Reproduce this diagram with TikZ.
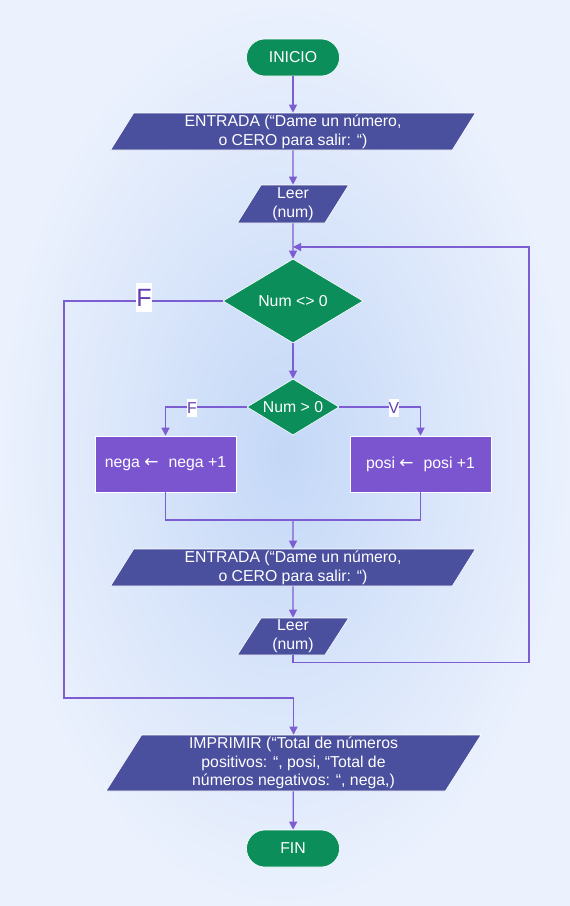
\documentclass[tikz,border=0pt]{standalone}
\usepackage{fontspec}
\setmainfont{Liberation Sans}
\newfontfamily\flechas{DejaVu Sans}
\usetikzlibrary{shapes.geometric,arrows.meta}

\definecolor{fondo}{HTML}{EBF1FD}
\definecolor{fondoc}{HTML}{C4D8F7}
\definecolor{verde}{HTML}{0B8E5A}
\definecolor{azulio}{HTML}{4A4F9E}
\definecolor{morado}{HTML}{7B55CF}
\definecolor{linea}{HTML}{7D5DD2}
\definecolor{etiq}{HTML}{6240B0}

\newcommand{\asigna}{{\flechas\fontsize{17}{17}\selectfont ←}}

\tikzset{
  every node/.style={font=\fontsize{15.8}{18.8}\selectfont, text=white},
  terminal/.style={draw=white, line width=0.6pt, fill=verde, rectangle,
    rounded corners=18.5pt, minimum width=93pt, minimum height=37pt, inner sep=0pt},
  datos/.style={draw=white, line width=0.6pt, fill=azulio, trapezium,
    trapezium left angle=65, trapezium right angle=115, trapezium stretches=true,
    inner sep=0pt, align=center},
  decision/.style={draw=white, line width=0.6pt, fill=verde, diamond, inner sep=0pt},
  proceso/.style={draw=white, line width=0.6pt, fill=morado, rectangle,
    minimum width=141pt, minimum height=56pt, inner sep=0pt},
  flujo/.style={draw=linea, line width=1.2pt},
  flecha/.style={flujo, -{Triangle[length=8pt,width=8pt]}},
  rotulo/.style={fill=white, text=etiq, inner sep=0pt, minimum width=10pt, minimum height=18pt}
}

\begin{document}
\begin{tikzpicture}[x=1pt,y=-1pt]
    % Fondo
    \useasboundingbox (0,0) rectangle (570,906);
    \shade[inner color=fondoc, outer color=fondo] (0,0) rectangle (570,906);

    % Nodos
    \node[terminal] (inicio) at (293,57.5) {INICIO};
    \node[datos, minimum width=366pt, minimum height=37pt] (entrada1) at (293,131.5)
        {ENTRADA (“Dame un número,\\o CERO para salir: “)};
    \node[datos, minimum width=112pt, minimum height=38pt] (leer1) at (293,204)
        {Leer\\(num)};
    \node[decision, aspect=1.67, minimum width=140pt, minimum height=84pt] (cond1) at (293,301) {Num <> 0};
    \node[decision, aspect=1.64, minimum width=92pt, minimum height=56pt] (cond2) at (293,407) {Num > 0};
    \node[proceso] (nega) at (165.5,464) {nega \asigna\hspace{0.35em} nega +1};
    \node[proceso] (posi) at (420.5,464) {posi \asigna\hspace{0.35em} posi +1};
    \node[datos, minimum width=366pt, minimum height=37pt] (entrada2) at (293,567.5)
        {ENTRADA (“Dame un número,\\o CERO para salir: “)};
    \node[datos, minimum width=112pt, minimum height=37pt] (leer2) at (293,636.5)
        {Leer\\(num)};
    \node[datos, minimum width=375pt, minimum height=56pt] (imprimir) at (293.5,763)
        {IMPRIMIR (“Total de números\\positivos: “, posi, “Total de\\números negativos: “, nega,)};
    \node[terminal] (fin) at (293,848.5) {FIN};

    % Puntos de paso
    \coordinate (union) at (293,520);
    \coordinate (retorno) at (293,247);

    % Conectores
    \draw[flecha] (inicio) -- (entrada1);
    \draw[flecha] (entrada1) -- (leer1);
    \draw[flecha] (leer1) -- (cond1);
    \draw[flecha] (cond1) -- (cond2);
    \draw[flecha] (cond2.west) -| (nega.north);
    \draw[flecha] (cond2.east) -| (posi.north);
    \draw[flujo] (nega.south) |- (union);
    \draw[flujo] (posi.south) |- (union);
    \draw[flecha] (union) -- (entrada2);
    \draw[flecha] (entrada2) -- (leer2);
    \draw[flecha] (leer2.south) -- ++(0,7) -| (529,247) -- (retorno);
    \draw[flecha] (cond1.west) -- (64,301) -- (64,698) -| (imprimir.north);
    \draw[flecha] (imprimir) -- (fin);

    % Etiquetas
    \node[rotulo, font=\fontsize{25}{25}\selectfont, minimum width=14pt, minimum height=29pt]
        (falso1) at (144,297.5) {F};
    \node[rotulo] (falso2) at (192,408) {F};
    \node[rotulo] (verdad) at (394,408) {V};
\end{tikzpicture}
\end{document}
